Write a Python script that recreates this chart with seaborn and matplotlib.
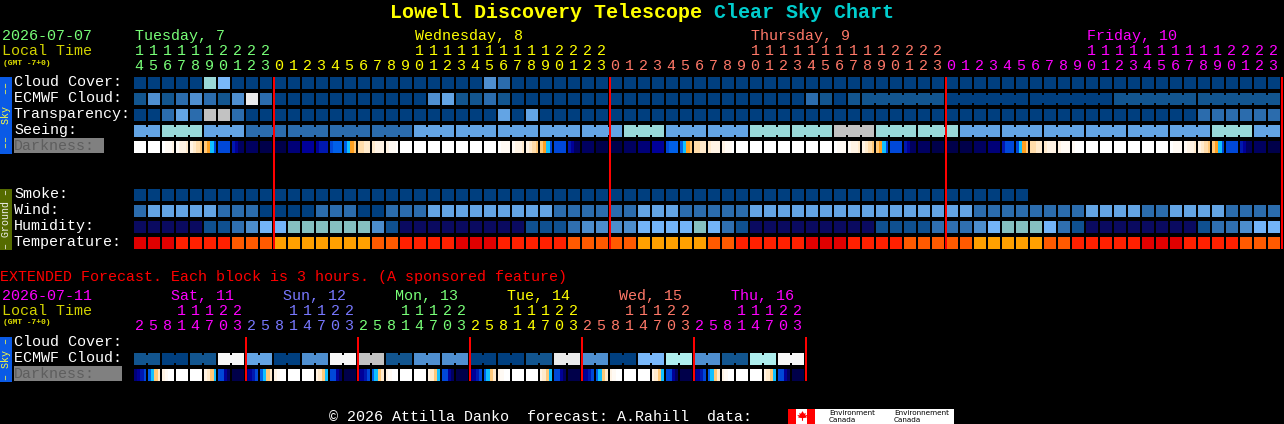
import numpy as np
import matplotlib
matplotlib.use('Agg')
import matplotlib.pyplot as plt
from matplotlib.colors import ListedColormap
from matplotlib.patches import Rectangle
import seaborn as sns

W, H = 1284, 424

# colours shared by the sky rows
SKY_COLORS = ['#003f7f', '#12558f', '#2b6cad', '#4f8fd0', '#63a4e4', '#79b8fa',
              '#99d8d8', '#c2c2c2', '#ebebeb', '#aeeeee', '#f8f8f8']
HUMIDITY_COLORS = ['#0a0a60', '#0f5090', '#2f6fb0', '#4c8dcc', '#73b4f8', '#85c0c0']
TEMP_COLORS = ['#e00000', '#ff2000', '#ff5a00', '#ffa000']
DARK_COLORS = ['#00004a', '#000060', '#000078', '#000098', '#0018b0', '#0048d8',
               '#0060e8', '#10c0ff', '#ffa020', '#ffc878', '#ffdcaa', '#ffeacc',
               '#fff3e4', '#fffaf4', '#ffffff']

CLOUD = [0, 0, 0, 0, 0, 6, 5, 0, 0, 0, 0, 0, 0, 0, 0, 0, 0, 0, 0, 0,
         0, 0, 0, 0, 0, 3, 2, 0, 0, 0, 0, 0, 0, 0, 0, 0, 0, 0, 0, 0,
         0, 0, 0, 0, 0, 0, 0, 0, 0, 0, 0, 0, 0, 0, 0, 0, 0, 0, 0, 0,
         0, 0, 0, 0, 0, 0, 0, 0, 0, 0, 0, 0, 0, 0, 0, 0, 0, 0, 0, 0, 0, 0]
ECMWF = [1, 3, 1, 2, 3, 2, 1, 3, 8, 2, 0, 0, 0, 0, 0, 0, 0, 0, 0, 0,
         0, 3, 4, 1, 1, 2, 1, 0, 0, 0, 0, 0, 0, 0, 0, 0, 0, 0, 0, 0,
         0, 0, 0, 0, 0, 0, 0, 0, 2, 1, 0, 1, 1, 1, 1, 1, 1, 1, 0, 0,
         0, 0, 0, 0, 0, 0, 0, 0, 0, 0, 1, 1, 1, 1, 1, 1, 1, 1, 1, 1, 1, 1]
ECMWF_SPANS = [1] * 52 + [6, 6, 6, 6, 6]
TRANSPARENCY = [0, 0, 2, 4, 2, 7, 7, 2, 0, 0, 0, 0, 0, 0, 0, 0, 0, 0, 0, 0,
                0, 0, 0, 0, 0, 0, 4, 0, 4, 0, 0, 0, 0, 0, 0, 0, 0, 0, 0, 0,
                0, 0, 0, 0, 0, 0, 0, 0, 0, 0, 0, 0, 0, 0, 0, 0, 0, 0, 0, 0,
                0, 0, 0, 0, 0, 0, 0, 0, 0, 0, 0, 0, 0, 0, 0, 0, 2, 2, 2, 2, 2, 2]
SEEING = [4, 4, 6, 6, 6, 4, 4, 4, 2, 2, 2, 2, 2, 2, 2, 2, 2, 2, 2, 2,
          4, 4, 4, 4, 4, 4, 4, 4, 4, 4, 4, 4, 4, 4, 4, 6, 6, 6, 4, 4,
          4, 4, 4, 4, 6, 6, 6, 6, 6, 6, 7, 7, 7, 6, 6, 6, 6, 6, 6, 4,
          4, 4, 4, 4, 4, 4, 4, 4, 4, 4, 4, 4, 4, 4, 4, 4, 4, 6, 6, 6, 4, 4]
SEEING_SPANS = [2] + [3] * 26 + [2]

# 4 samples across each block, dark to light
DARKNESS = [
    14, 14, 14, 14, 14, 14, 14, 14, 14, 13, 13, 12, 13, 12, 12, 11, 12, 11, 10, 9, 9, 8, 7, 5,
    5, 5, 5, 5, 4, 3, 1, 1, 1, 1, 1, 1, 0, 0, 0, 0, 0, 0, 0, 0, 2, 2, 2, 2,
    3, 3, 3, 3, 3, 4, 4, 4, 5, 6, 6, 6, 6, 7, 8, 9, 10, 10, 11, 11, 11, 12, 12, 12,
    12, 13, 13, 14, 14, 14, 14, 14, 14, 14, 14, 14, 14, 14, 14, 14, 14, 14, 14, 14, 14, 14, 14, 14,
    14, 14, 14, 14, 14, 14, 14, 14, 14, 13, 13, 13, 13, 12, 12, 11, 12, 11, 10, 9, 9, 8, 7, 5,
    5, 5, 5, 5, 4, 3, 1, 1, 1, 1, 1, 1, 0, 0, 0, 0, 0, 0, 0, 0, 1, 1, 1, 1,
    2, 2, 2, 2, 3, 3, 3, 3, 5, 6, 6, 6, 6, 7, 8, 9, 10, 10, 11, 11, 11, 12, 12, 12,
    12, 13, 13, 14, 14, 14, 14, 14, 14, 14, 14, 14, 14, 14, 14, 14, 14, 14, 14, 14, 14, 14, 14, 14,
    14, 14, 14, 14, 14, 14, 14, 14, 14, 13, 13, 13, 13, 12, 12, 11, 12, 11, 10, 9, 9, 8, 7, 5,
    5, 5, 5, 5, 4, 3, 1, 1, 1, 1, 1, 1, 0, 0, 0, 0, 0, 0, 0, 0, 0, 0, 0, 0,
    1, 1, 1, 1, 2, 2, 2, 2, 4, 5, 5, 5, 5, 7, 8, 9, 10, 10, 11, 11, 11, 12, 12, 12,
    12, 13, 13, 13, 13, 14, 14, 14, 14, 14, 14, 14, 14, 14, 14, 14, 14, 14, 14, 14, 14, 14, 14, 14,
    14, 14, 14, 14, 14, 14, 14, 14, 14, 13, 13, 13, 13, 12, 12, 11, 12, 11, 10, 9, 9, 8, 7, 5,
    5, 5, 5, 5, 4, 3, 1, 1, 1, 1, 1, 1, 0, 0, 0, 0]

SMOKE = [0] * 64 + [np.nan] * 18
WIND = [2, 4, 4, 4, 4, 4, 2, 2, 2, 0, 0, 0, 0, 2, 2, 2, 0, 0, 2, 2,
        2, 4, 4, 4, 4, 4, 4, 4, 4, 4, 2, 2, 2, 2, 2, 2, 4, 4, 4, 2,
        2, 2, 2, 2, 4, 4, 4, 4, 4, 4, 4, 4, 4, 4, 4, 4, 4, 4, 4, 4,
        2, 2, 2, 2, 2, 2, 2, 2, 4, 4, 4, 4, 2, 2, 4, 4, 4, 4, 2, 2, 2, 2]
HUMIDITY = [0, 0, 0, 0, 0, 1, 1, 2, 3, 4, 4, 5, 5, 5, 5, 5, 5, 3, 1, 0,
            0, 0, 0, 0, 0, 0, 0, 0, 1, 1, 1, 2, 3, 3, 3, 3, 4, 4, 4, 4,
            5, 4, 2, 1, 0, 0, 0, 0, 0, 0, 0, 0, 0, 1, 1, 1, 1, 2, 2, 2,
            3, 4, 5, 5, 5, 4, 2, 1, 0, 0, 0, 0, 0, 0, 0, 0, 1, 2, 2, 3, 4, 4]
TEMPERATURE = [0, 0, 0, 1, 1, 1, 1, 2, 2, 2, 3, 3, 3, 3, 3, 3, 3, 2, 2, 1,
               1, 1, 1, 0, 0, 0, 1, 1, 1, 1, 1, 2, 2, 2, 2, 2, 3, 3, 3, 3,
               3, 2, 2, 1, 1, 1, 1, 1, 0, 0, 0, 1, 1, 1, 1, 2, 2, 2, 2, 2,
               3, 3, 3, 3, 3, 2, 2, 1, 1, 1, 1, 1, 0, 0, 0, 1, 1, 1, 1, 2, 2, 2]

HOURS = [14, 15, 16, 17, 18, 19, 20, 21, 22, 23,
         0, 1, 2, 3, 4, 5, 6, 7, 8, 9, 10, 11, 12, 13, 14, 15, 16, 17, 18, 19, 20, 21, 22, 23,
         0, 1, 2, 3, 4, 5, 6, 7, 8, 9, 10, 11, 12, 13, 14, 15, 16, 17, 18, 19, 20, 21, 22, 23,
         0, 1, 2, 3, 4, 5, 6, 7, 8, 9, 10, 11, 12, 13, 14, 15, 16, 17, 18, 19, 20, 21, 22, 23]
DAY_LABELS = ['Tuesday, 7', 'Wednesday, 8', 'Thursday, 9', 'Friday, 10']
DAY_LABEL_COLS = [0, 20, 44, 68]
DAY_STARTS = [0, 10, 34, 58]
DAY_COLORS = ['#78ff78', '#ffff00', '#ff7868', '#ff00ff']
MIDNIGHTS = [10, 34, 58, 82]

# extended forecast, 3 hour blocks
EXT_HOURS = [2, 5, 8, 11, 14, 17, 20, 23] * 6
EXT_ECMWF = [1, 0, 1, 10, 4, 0, 3, 10, 7, 1, 3, 3, 0, 0, 1, 8, 3, 0, 5, 9, 3, 1, 9, 10]
EXT_DARKNESS = [
    2, 3, 4, 5, 6, 7, 9, 11, 12, 13, 14, 14, 14, 14, 14, 14, 14, 14, 14, 14, 12, 11, 9, 7, 5, 5, 3, 1, 0, 0, 0, 0,
    2, 3, 4, 5, 6, 7, 9, 11, 12, 13, 14, 14, 14, 14, 14, 14, 14, 14, 14, 14, 12, 11, 9, 7, 5, 5, 3, 1, 0, 0, 0, 0,
    2, 3, 4, 5, 6, 7, 9, 11, 12, 13, 14, 14, 14, 14, 14, 14, 14, 14, 14, 14, 12, 11, 9, 7, 5, 5, 3, 1, 0, 0, 0, 0,
    2, 3, 4, 5, 6, 7, 9, 11, 12, 13, 14, 14, 14, 14, 14, 14, 14, 14, 14, 14, 12, 11, 9, 7, 5, 5, 3, 1, 0, 0, 0, 0,
    2, 3, 4, 5, 6, 7, 9, 11, 12, 13, 14, 14, 14, 14, 14, 14, 14, 14, 14, 14, 12, 11, 9, 7, 5, 5, 3, 1, 0, 0, 0, 0,
    2, 3, 4, 5, 6, 7, 9, 11, 12, 13, 14, 14, 14, 14, 14, 14, 14, 14, 14, 14, 12, 11, 9, 7, 5, 5, 3, 1, 0, 0, 0, 0]
EXT_DAY_LABELS = ['Sat, 11', 'Sun, 12', 'Mon, 13', 'Tue, 14', 'Wed, 15', 'Thu, 16']
EXT_DAY_COLORS = ['#ff00ff', '#7878ff', '#78ff78', '#ffff00', '#ff7868', '#ff00ff']
EXT_MIDNIGHTS = [8, 16, 24, 32, 40, 48]

sns.set_theme(style='white')
plt.rcParams['font.family'] = ['Liberation Mono']
MONO_SIZE = 10.8

fig = plt.figure(figsize=(W / 100, H / 100), dpi=100, facecolor='black')

# pixel axes for text, bars and red lines
overlay = fig.add_axes([0, 0, 1, 1], zorder=10)
overlay.set_xlim(0, W)
overlay.set_ylim(H, 0)
overlay.axis('off')


def draw_row(values, colors, top, spans=None, samples=1):
    values = np.array(values, dtype=float).reshape(1, -1)
    n = values.shape[1] // samples
    ax = fig.add_axes([133 / W, 1 - (top + 12) / H, 14 * n / W, 12 / H])
    sns.heatmap(values, ax=ax, cmap=ListedColormap(colors), vmin=-0.5, vmax=len(colors) - 0.5,
                cbar=False, xticklabels=False, yticklabels=False)
    ax.set_facecolor('black')
    ax.set_xlim(0, n * samples)
    # gaps between blocks, spans keep a narrow bridge inside a group
    spans = spans if spans is not None else [1] * n
    edges = np.cumsum([0] + list(spans))
    notches = [i for i in range(n + 1) if i not in edges]
    lw = 2 * 72 / 100
    ax.vlines(edges * samples, 0, 1, colors='black', lw=lw)
    if notches:
        notches = np.array(notches) * samples
        ax.vlines(notches, 0, 2 / 12, colors='black', lw=lw)
        ax.vlines(notches, 10 / 12, 1, colors='black', lw=lw)


def label(x, y, text, color='white', size=MONO_SIZE, **kw):
    overlay.text(x, y, text, color=color, fontsize=size, va='baseline', **kw)


def hour_labels(hours, colors, tens_y, units_y):
    for i, hour in enumerate(hours):
        x = 134 + 14 * i + 5
        if hour >= 10:
            label(x, tens_y, str(hour // 10), colors[i], ha='center')
        label(x, units_y, str(hour % 10), colors[i], ha='center')


# main chart
draw_row(CLOUD, SKY_COLORS, 77)
draw_row(ECMWF, SKY_COLORS, 93, spans=ECMWF_SPANS)
draw_row(TRANSPARENCY, SKY_COLORS, 109)
draw_row(SEEING, SKY_COLORS, 125, spans=SEEING_SPANS)
draw_row(DARKNESS, DARK_COLORS, 141, samples=4)
draw_row(SMOKE, SKY_COLORS, 189)
draw_row(WIND, SKY_COLORS, 205)
draw_row(HUMIDITY, HUMIDITY_COLORS, 221)
draw_row(TEMPERATURE, TEMP_COLORS, 237)

# extended chart
draw_row(np.repeat(EXT_ECMWF, 2), SKY_COLORS, 353, spans=[2] * 24)
draw_row(EXT_DARKNESS, DARK_COLORS, 369, samples=4)

for col in MIDNIGHTS:
    overlay.vlines(134 + 14 * col, 77, 249, colors='#ff0000', lw=1.44)
for col in EXT_MIDNIGHTS:
    overlay.vlines(134 + 14 * col, 337, 381, colors='#ff0000', lw=1.44)

# title
label(390, 18, 'Lowell Discovery Telescope', '#ffff00', size=14.4, fontweight='bold')
label(714, 18, 'Clear Sky Chart', '#00cdcd', size=14.4, fontweight='bold')

# header of the main chart
label(2, 40, '2026-07-07', '#78ff78')
label(2, 55, 'Local Time', '#d2d200')
label(3, 65, '(GMT -7+0)', '#e0e000', size=5.8, fontweight='bold')
for text, col, color in zip(DAY_LABELS, DAY_LABEL_COLS, DAY_COLORS):
    label(135 + 14 * col, 40, text, color)

hour_colors = []
for i in range(len(HOURS)):
    day = sum(i >= start for start in DAY_STARTS) - 1
    hour_colors.append(DAY_COLORS[day])
hour_labels(HOURS, hour_colors, 55, 70)

# row names
sky_names = ['Cloud Cover:', 'ECMWF Cloud:', 'Transparency:', 'Seeing:']
for name, y in zip(sky_names, [86, 102, 118, 134]):
    label(14, y, name)
ground_names = ['Smoke:', 'Wind:', 'Humidity:', 'Temperature:']
for name, y in zip(ground_names, [198, 214, 230, 246]):
    label(14, y, name)
overlay.add_patch(Rectangle((14, 138), 90, 15, color='#808080', lw=0))
label(14, 150, 'Darkness:', '#5e5e5e')

# side bars
overlay.add_patch(Rectangle((0, 77), 12, 77, color='#0a5ae6', lw=0))
overlay.text(6, 115, '\u2013\u2013  Sky  \u2013\u2013', color='#ffff40', fontsize=7.2, rotation=90, ha='center', va='center')
overlay.add_patch(Rectangle((0, 189), 12, 61, color='#556b00', lw=0))
overlay.text(6, 219, '\u2013 Ground \u2013', color='#f0f0f0', fontsize=7.2, rotation=90, ha='center', va='center')
overlay.add_patch(Rectangle((0, 337), 12, 45, color='#0a5ae6', lw=0))
overlay.text(6, 359, '\u2013 Sky \u2013', color='#ffff40', fontsize=7.2, rotation=90, ha='center', va='center')

# extended header
label(0, 281, 'EXTENDED Forecast. Each block is 3 hours. (A sponsored feature)', '#ff0000')
label(2, 300, '2026-07-11', '#ff00ff')
label(2, 315, 'Local Time', '#d2d200')
label(3, 324, '(GMT -7+0)', '#e0e000', size=5.8, fontweight='bold')
for i, (text, color) in enumerate(zip(EXT_DAY_LABELS, EXT_DAY_COLORS)):
    label(171 + 112 * i, 300, text, color)
ext_colors = [EXT_DAY_COLORS[i // 8] for i in range(len(EXT_HOURS))]
hour_labels(EXT_HOURS, ext_colors, 315, 330)

label(14, 346, 'Cloud Cover:')
label(14, 362, 'ECMWF Cloud:')
overlay.add_patch(Rectangle((14, 366), 108, 15, color='#808080', lw=0))
label(14, 378, 'Darkness:', '#5e5e5e')

# footer
label(329, 421, '\u00a9 2026 Attilla Danko  forecast: A.Rahill  data:')
overlay.add_patch(Rectangle((796, 409), 158, 15, color='white', lw=0))
overlay.add_patch(Rectangle((788, 409), 8, 15, color='#ff0000', lw=0))
overlay.add_patch(Rectangle((807, 409), 8, 15, color='#ff0000', lw=0))
leaf = [(0, 1), (.3, .5), (.6, .7), (.5, .2), (1, .3), (.7, 0), (.8, -.2), (.1, -.3), (.1, -.8),
        (-.1, -.8), (-.1, -.3), (-.8, -.2), (-.7, 0), (-1, .3), (-.5, .2), (-.6, .7), (-.3, .5)]
overlay.scatter([801.5], [416], marker=leaf, s=60, color='#ff0000', lw=0)
small = dict(color='black', fontsize=5.2, family=['DejaVu Sans'], va='baseline')
overlay.text(829, 415, 'Environment', **small)
overlay.text(829, 422, 'Canada', **small)
overlay.text(894, 415, 'Environnement', **small)
overlay.text(894, 422, 'Canada', **small)

fig.savefig('out.png', dpi=100, facecolor='black')
